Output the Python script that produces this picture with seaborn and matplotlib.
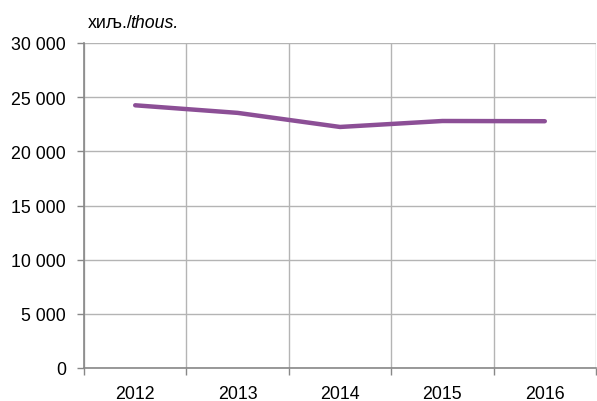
import matplotlib
matplotlib.use("Agg")
import matplotlib.pyplot as plt
import seaborn as sns
import pandas as pd
from matplotlib.ticker import FixedLocator, FuncFormatter

years = ["2012", "2013", "2014", "2015", "2016"]
values = [24250, 23550, 22250, 22800, 22780]
y_ticks = [0, 5000, 10000, 15000, 20000, 25000, 30000]

sns.set_theme(style="white")
plt.rcParams['font.family'] = ['Liberation Sans', 'DejaVu Sans']

df = pd.DataFrame({"year": years, "value": values})

fig = plt.figure(figsize=(5.97, 4.02), dpi=100)
ax = fig.add_axes([84/597, 1-369/402, 512/597, (369-44)/402])

sns.lineplot(data=df, x="year", y="value", ax=ax, color="#8c4f96", linewidth=3.2,
             solid_capstyle="round", solid_joinstyle="round", zorder=3)

ax.set_xlim(-0.5, len(years) - 0.5)
ax.set_ylim(0, 30000)
ax.set_xlabel("")
ax.set_ylabel("")

ax.yaxis.set_major_locator(FixedLocator(y_ticks))
ax.yaxis.set_major_formatter(FuncFormatter(lambda v, p: f"{int(v):,}".replace(",", " ")))
ax.xaxis.set_minor_locator(FixedLocator([i + 0.5 for i in range(-1, len(years))]))

ax.grid(False)
ax.grid(True, axis="y", which="major", color="#b4b4b4", linewidth=1.0, zorder=0)
ax.grid(True, axis="x", which="minor", color="#b4b4b4", linewidth=1.0, zorder=0)

ax.tick_params(axis="x", which="major", length=0, pad=12, labelsize=12.8, colors="#000000")
ax.tick_params(axis="x", which="minor", length=5, width=1, color="#888888", direction="out", bottom=True)
ax.tick_params(axis="y", which="major", length=5, width=1, color="#888888", direction="out", left=True,
               labelsize=12.8, pad=8, labelcolor="#000000")

for s in ["top", "right"]:
    ax.spines[s].set_visible(False)
ax.spines["left"].set_color("#888888")
ax.spines["left"].set_linewidth(1.2)
ax.spines["bottom"].set_color("#888888")
ax.spines["bottom"].set_linewidth(1.2)

t1 = fig.text(88/597, 1-23/402, "хиљ./", fontsize=12.8, ha="left", va="center", color="#000000")
fig.canvas.draw()
bb = t1.get_window_extent()
fig.text((bb.x1 - 3)/597, 1-23/402, "thous.", fontsize=12.8, ha="left", va="center", style="italic", color="#000000")

fig.savefig("out.png", dpi=100, facecolor="white")
